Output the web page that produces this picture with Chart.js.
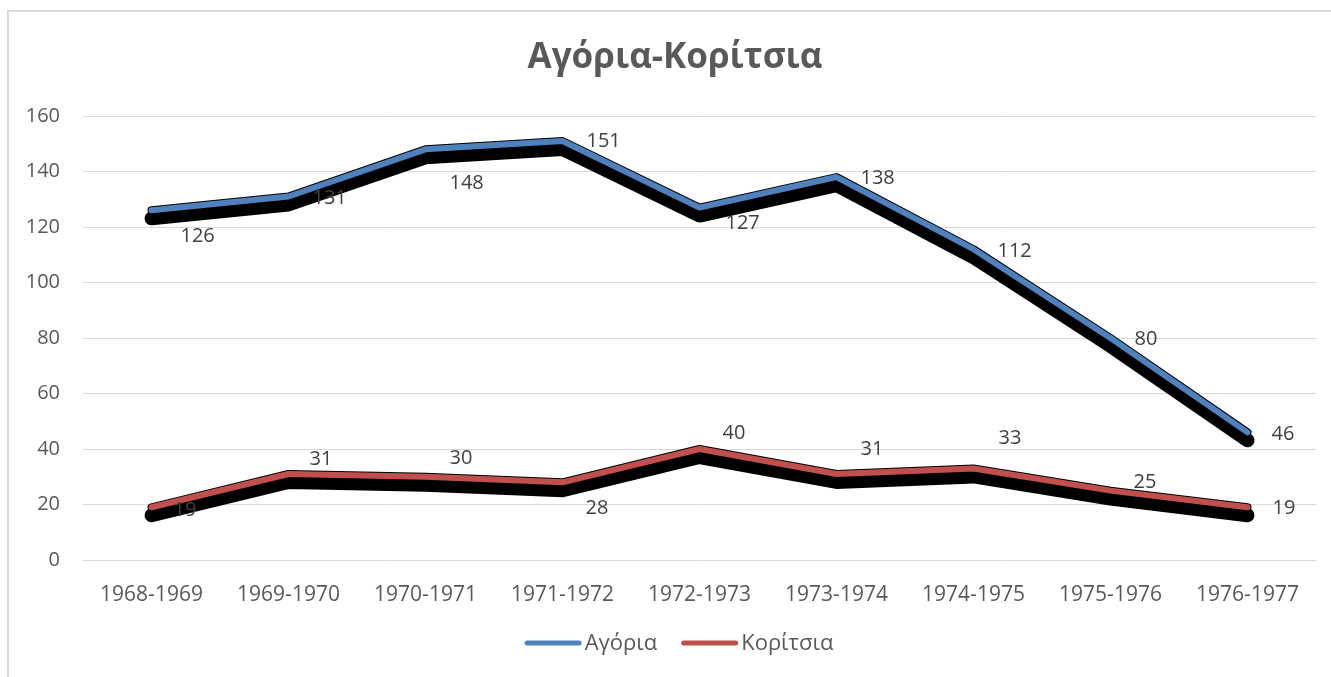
<!DOCTYPE html>
<html lang="el">
<head>
<meta charset="utf-8">
<title>Αγόρια-Κορίτσια</title>
<script src="https://cdn.jsdelivr.net/npm/chart.js@4.4.0/dist/chart.umd.min.js"></script>
<style>
    html, body { margin: 0; padding: 0; background: #fff; overflow: hidden; width: 1331px; height: 677px; }
    #moldura { position: absolute; left: 7px; top: 10px; width: 1400px; height: 700px; border-left: 2px solid #d9d9d9; border-top: 2px solid #d9d9d9; }
    #area { position: absolute; left: 0; top: 0; width: 1348px; height: 677px; }
</style>
</head>
<body>
<div id="moldura"></div>
<div id="area"><canvas id="graficoAlunos" width="1348" height="677"></canvas></div>
<script>
const periodos = ['1968-1969', '1969-1970', '1970-1971', '1971-1972', '1972-1973', '1973-1974', '1974-1975', '1975-1976', '1976-1977']
const agoria = [126, 131, 148, 151, 127, 138, 112, 80, 46]
const koritsia = [19, 31, 30, 28, 40, 31, 33, 25, 19]
const valoresEixoY = [0, 20, 40, 60, 80, 100, 120, 140, 160]

const fonte = 'Open Sans'
const cinza = '#595959'

// onde o Excel colocou cada rótulo, relativo ao ponto (texto alinhado à esquerda)
const desvioRotulos = [
    { dx: [29, 24, 24, 24, 26, 24, 24, 24, 24], dy: [26, 2, 34, 0, 16, 1, 2, 1, 2] },
    { dx: [22, 21, 24, 23, 23, 24, 25, 23, 25], dy: [3, -15, -18, 26, -16, -25, -30, -8, 1] }
]

function tracar(ctx, pontos, deslocY, largura) {
    ctx.lineWidth = largura
    ctx.beginPath()
    pontos.forEach((p, i) => {
        if (i === 0) ctx.moveTo(p.x, p.y + deslocY)
        else ctx.lineTo(p.x, p.y + deslocY)
    })
    ctx.stroke()
}

const sombraLinhas = {
    id: 'sombraLinhas',
    beforeDatasetDraw(chart, args) {
        const ctx = chart.ctx
        ctx.save()
        ctx.strokeStyle = '#000'
        ctx.lineJoin = 'round'
        ctx.lineCap = 'round'
        tracar(ctx, args.meta.data, 8, 14)
        tracar(ctx, args.meta.data, 0, 8)
        ctx.restore()
    }
}

const rotulosDados = {
    id: 'rotulosDados',
    afterDatasetsDraw(chart) {
        const ctx = chart.ctx
        ctx.save()
        ctx.font = `20px "${fonte}"`
        ctx.fillStyle = '#404040'
        ctx.textAlign = 'left'
        ctx.textBaseline = 'middle'
        chart.data.datasets.forEach((ds, d) => {
            const meta = chart.getDatasetMeta(d)
            meta.data.forEach((p, i) => {
                ctx.fillText(ds.data[i], p.x + desvioRotulos[d].dx[i], p.y + desvioRotulos[d].dy[i])
            })
        })
        ctx.restore()
    }
}

// o título do Excel fica centrado na moldura inteira, um pouco à direita
const centrarTitulo = {
    id: 'centrarTitulo',
    afterLayout(chart) {
        const titulo = chart.titleBlock
        if (titulo) {
            titulo.left += 17
            titulo.right += 17
        }
    }
}

// legenda no estilo do Excel: traço curto e texto colado nele
const legendaExcel = {
    id: 'legendaExcel',
    afterDraw(chart) {
        const ctx = chart.ctx
        const traco = 57, vao = 3, espaco = 24, centroX = 679, centroY = 643
        ctx.save()
        ctx.font = `22px "${fonte}"`
        ctx.textBaseline = 'middle'
        ctx.textAlign = 'left'
        const larguras = chart.data.datasets.map(ds => traco + vao + ctx.measureText(ds.label).width)
        const total = larguras.reduce((a, b) => a + b, 0) + espaco * (larguras.length - 1)
        let x = centroX - total / 2
        chart.data.datasets.forEach((ds, i) => {
            ctx.strokeStyle = ds.borderColor
            ctx.lineWidth = 5
            ctx.lineCap = 'round'
            ctx.beginPath()
            ctx.moveTo(x + 2.5, centroY)
            ctx.lineTo(x + traco - 2.5, centroY)
            ctx.stroke()
            ctx.fillStyle = cinza
            ctx.fillText(ds.label, x + traco + vao, centroY + 1)
            x += larguras[i] + espaco
        })
        ctx.restore()
    }
}

const ctx = document.getElementById('graficoAlunos').getContext('2d')

new Chart(ctx, {
    type: 'line',
    data: {
        labels: periodos,
        datasets: [{
            label: 'Αγόρια',
            data: agoria,
            borderColor: '#4f81bd',
            backgroundColor: '#4f81bd',
            borderWidth: 6,
            borderCapStyle: 'round',
            borderJoinStyle: 'round',
            pointRadius: 0,
            tension: 0,
            fill: false
        }, {
            label: 'Κορίτσια',
            data: koritsia,
            borderColor: '#c0504d',
            backgroundColor: '#c0504d',
            borderWidth: 6,
            borderCapStyle: 'round',
            borderJoinStyle: 'round',
            pointRadius: 0,
            tension: 0,
            fill: false
        }]
    },
    plugins: [sombraLinhas, rotulosDados, centrarTitulo, legendaExcel],
    options: {
        responsive: false,
        devicePixelRatio: 1,
        animation: false,
        layout: {
            padding: { left: 0, right: 32, top: 0, bottom: 68 }
        },
        scales: {
            x: {
                offset: true,
                grid: { display: false },
                border: { display: false },
                ticks: {
                    color: cinza,
                    font: { family: fonte, size: 21 },
                    padding: 14,
                    maxRotation: 0
                },
                afterFit: (escala) => { escala.height = 49 }
            },
            y: {
                min: valoresEixoY[0],
                max: valoresEixoY[valoresEixoY.length - 1],
                grid: { color: '#d9d9d9', lineWidth: 1, drawTicks: false },
                border: { display: false },
                ticks: {
                    color: cinza,
                    font: { family: fonte, size: 20 },
                    padding: 23
                },
                afterBuildTicks: (escala) => {
                    escala.ticks = valoresEixoY.map(v => ({ value: v }))
                },
                afterFit: (escala) => { escala.width = 83 }
            }
        },
        plugins: {
            title: {
                display: true,
                text: 'Αγόρια-Κορίτσια',
                color: cinza,
                font: { family: fonte, size: 35, weight: 'bold', lineHeight: 1.2 },
                padding: { top: 37, bottom: 37 }
            },
            legend: { display: false },
            tooltip: { enabled: false }
        }
    }
})
</script>
</body>
</html>
